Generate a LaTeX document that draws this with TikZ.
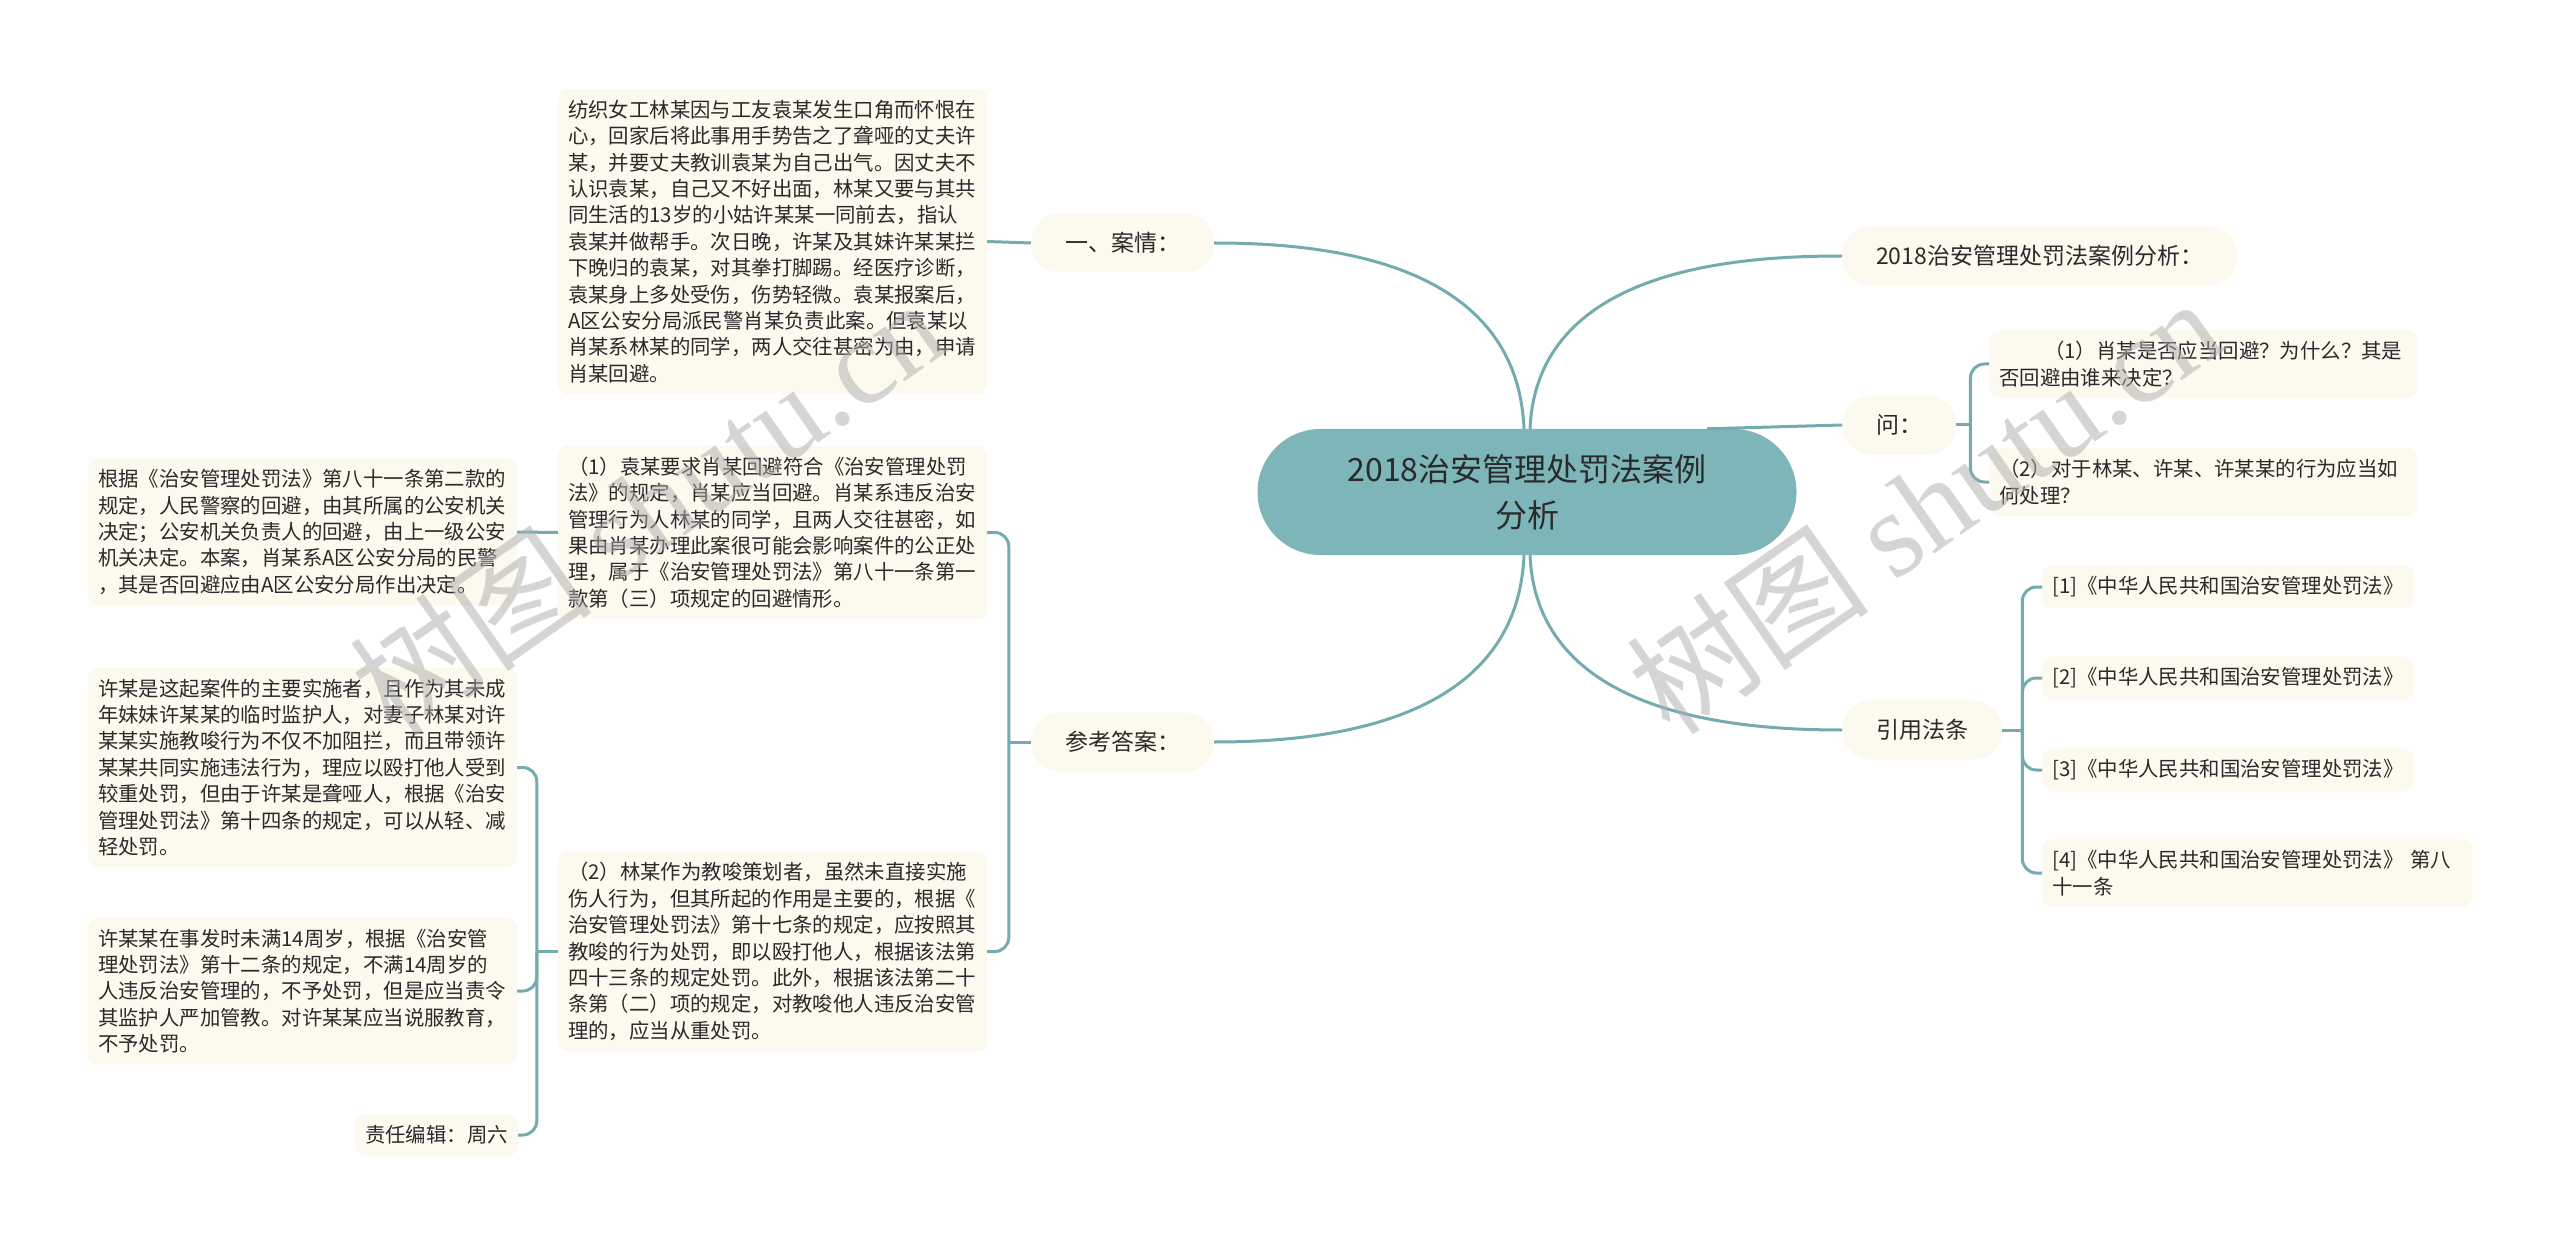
\documentclass[tikz,border=0pt]{standalone}
\usepackage{fontspec}
\setmainfont{Noto Sans CJK SC}
\newfontfamily\wmlatin{Liberation Serif}
\newfontfamily\wmcjk{Noto Sans CJK SC}
\definecolor{lnc}{HTML}{74ABAE}
\definecolor{ctr}{HTML}{7DB5B8}
\definecolor{crm}{HTML}{FCF9EF}
\definecolor{txc}{HTML}{2A2A2A}
\tikzset{
  conn/.style={draw=lnc, line width=3pt},
  brn/.style={conn, rounded corners=14pt},
  ctrnode/.style={fill=ctr, rounded corners=63pt, minimum width=539pt, minimum height=126pt, align=center, font=\fontsize{32}{46}\selectfont, text=txc},
  pill/.style={fill=crm, rounded corners=29pt, minimum height=59pt, inner xsep=34pt, font=\fontsize{23}{28}\selectfont, text=txc},
  box/.style={fill=crm, rounded corners=10pt, inner xsep=10pt, inner ysep=11pt, align=left, font=\fontsize{20.4}{26.4}\selectfont, text=txc},
  wm/.style={text=black!32, opacity=0.5, font=\fontsize{122}{122}\selectfont}
}
\begin{document}
\begin{tikzpicture}[x=1pt,y=-1pt]
\useasboundingbox (0,0) rectangle (2560,1246);
\fill[white] (0,0) rectangle (2560,1246);

% central node
\node[ctrnode] (c) at (1527,492) {2018治安管理处罚法案例\\分析};

% level-1 nodes
\node[pill] (an) at (1122.5,243) {一、案情：};
\node[pill] (ck) at (1122.5,742) {参考答案：};
\node[pill, anchor=west] (fx) at (1842,256) {2018治安管理处罚法案例分析：};
\node[pill, anchor=west] (q) at (1842,425) {问：};
\node[pill, anchor=west] (yy) at (1842,730) {引用法条};

% left boxes
\node[box, text width=409pt] (case) at (772.5,241.5) {纺织女工林某因与工友袁某发生口角而怀恨在\\心，回家后将此事用手势告之了聋哑的丈夫许\\某，并要丈夫教训袁某为自己出气。因丈夫不\\认识袁某，自己又不好出面，林某又要与其共\\同生活的13岁的小姑许某某一同前去，指认\\袁某并做帮手。次日晚，许某及其妹许某某拦\\下晚归的袁某，对其拳打脚踢。经医疗诊断，\\袁某身上多处受伤，伤势轻微。袁某报案后，\\A区公安分局派民警肖某负责此案。但袁某以\\肖某系林某的同学，两人交往甚密为由，申请\\肖某回避。};

\node[box, text width=409pt] (a1) at (772.5,532.5) {（1）袁某要求肖某回避符合《治安管理处罚\\法》的规定，肖某应当回避。肖某系违反治安\\管理行为人林某的同学，且两人交往甚密，如\\果由肖某办理此案很可能会影响案件的公正处\\理，属于《治安管理处罚法》第八十一条第一\\款第（三）项规定的回避情形。};

\node[box, text width=409pt] (a2) at (772.5,951.5) {（2）林某作为教唆策划者，虽然未直接实施\\伤人行为，但其所起的作用是主要的，根据《\\治安管理处罚法》第十七条的规定，应按照其\\教唆的行为处罚，即以殴打他人，根据该法第\\四十三条的规定处罚。此外，根据该法第二十\\条第（二）项的规定，对教唆他人违反治安管\\理的，应当从重处罚。};

\node[box, text width=409pt] (d1) at (302.5,532) {根据《治安管理处罚法》第八十一条第二款的\\规定，人民警察的回避，由其所属的公安机关\\决定；公安机关负责人的回避，由上一级公安\\机关决定。本案，肖某系A区公安分局的民警\\，其是否回避应由A区公安分局作出决定。};

\node[box, text width=409pt] (d2) at (302.5,767.5) {许某是这起案件的主要实施者，且作为其未成\\年妹妹许某某的临时监护人，对妻子林某对许\\某某实施教唆行为不仅不加阻拦，而且带领许\\某某共同实施违法行为，理应以殴打他人受到\\较重处罚，但由于许某是聋哑人，根据《治安\\管理处罚法》第十四条的规定，可以从轻、减\\轻处罚。};

\node[box, text width=409pt] (d3) at (302.5,991) {许某某在事发时未满14周岁，根据《治安管\\理处罚法》第十二条的规定，不满14周岁的\\人违反治安管理的，不予处罚，但是应当责令\\其监护人严加管教。对许某某应当说服教育，\\不予处罚。};

\node[box, anchor=east] (ed) at (518,1135) {责任编辑：周六};

% right boxes
\node[box, text width=408pt, anchor=west] (q1) at (1989,364) {\hspace*{2.2em}（1）肖某是否应当回避？为什么？其是\\否回避由谁来决定？};
\node[box, text width=408pt, anchor=west] (q2) at (1989,482) {（2）对于林某、许某、许某某的行为应当如\\何处理？};

\node[box, anchor=west] (r1) at (2042,587) {[1]《中华人民共和国治安管理处罚法》};
\node[box, anchor=west] (r2) at (2042,678) {[2]《中华人民共和国治安管理处罚法》};
\node[box, anchor=west] (r3) at (2042,770) {[3]《中华人民共和国治安管理处罚法》};
\node[box, text width=410pt, anchor=west] (r4) at (2042,873) {[4]《中华人民共和国治安管理处罚法》 第八\\十一条};

% main curves
\draw[conn] ([xshift=-3pt]c.north) .. controls +(-7,-168) and +(112,0) .. (an.east);
\draw[conn] ([xshift=-3pt]c.south) .. controls +(-7,168) and +(112,0) .. (ck.east);
\draw[conn] ([xshift=3pt]c.north) .. controls +(7,-158) and +(-112,0) .. (fx.west);
\draw[conn] ([xshift=3pt]c.south) .. controls +(7,158) and +(-112,0) .. (yy.west);
\draw[conn] ([xshift=180pt]c.north) -- (q.west);

% straight links
\draw[conn] (an.west) -- (case.east);
\draw[conn] (a1.west) -- (d1.east);

% brackets
\coordinate (jq) at ([xshift=14pt]q.east);
\draw[conn] (q.east) -- (jq);
\draw[brn] (jq) |- (q1.west);
\draw[brn] (jq) |- (q2.west);

\coordinate (jy) at ([xshift=20pt]yy.east);
\draw[conn] (yy.east) -- (jy);
\foreach \r in {r1,r2,r3,r4} \draw[brn] (jy) |- (\r.west);

\coordinate (jc) at ([xshift=-22pt]ck.west);
\draw[conn] (ck.west) -- (jc);
\draw[brn] (jc) |- (a1.east);
\draw[brn] (jc) |- (a2.east);

\coordinate (ja) at ([xshift=-21pt]a2.west);
\draw[conn] (a2.west) -- (ja);
\draw[brn] (ja) |- (d2.east);
\draw[brn] (ja) |- (d3.east);
\draw[brn] (ja) |- (ed.east);

% watermarks
\node[wm, rotate=35] (w1) at (647,506) {{\wmcjk 树图} {\wmlatin shutu.cn}};
\node[wm, rotate=35] (w2) at (1924,505) {{\wmcjk 树图} {\wmlatin shutu.cn}};
\end{tikzpicture}
\end{document}
